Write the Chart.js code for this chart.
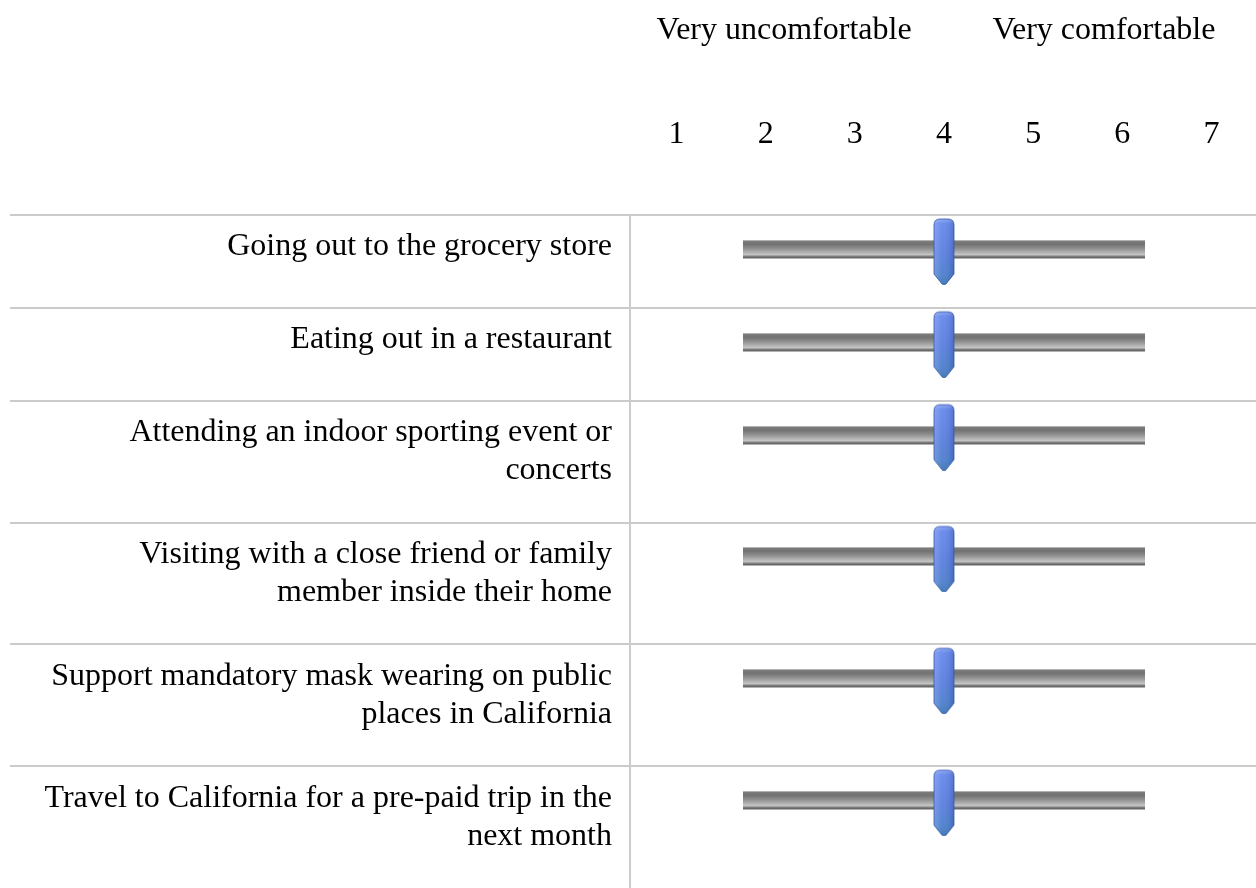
<!DOCTYPE html>
<html>
<head>
<meta charset="utf-8">
<title>Comfort ratings</title>
<script src="https://cdn.jsdelivr.net/npm/chart.js@4.4.1/dist/chart.umd.min.js"></script>
<style>
  html, body { margin: 0; padding: 0; background: #fff; }
  #wrap { position: relative; width: 1256px; height: 888px; }
</style>
</head>
<body>
<div id="wrap"><canvas id="ratingChart"></canvas></div>
<script>
/* ---------- data ---------- */
const ROW_LABELS = [
  ['Going out to the grocery store'],
  ['Eating out in a restaurant'],
  ['Attending an indoor sporting event or', 'concerts'],
  ['Visiting with a close friend or family', 'member inside their home'],
  ['Support mandatory mask wearing on public', 'places in California'],
  ['Travel to California for a pre-paid trip in the', 'next month']
];
const RATINGS = [4, 4, 4, 4, 4, 4];
const SCALE_TICKS = [1, 2, 3, 4, 5, 6, 7];
const SCALE_ENDS = ['Very uncomfortable', 'Very comfortable'];

/* ---------- layout (table rows grow with wrapped lines) ---------- */
const FONT = "'Liberation Serif', 'Times New Roman', serif";
const FONT_SIZE = 32;
const LINE_H = 38;
const ROW_H_ONE = 93;
const ROW_H_TWO = 122;
const TRACK_OFFSET = 34;     // track centre below row top
const LABEL_OFFSET = 32;     // first text line centre below row top
const TRACK_FROM = 1.75, TRACK_TO = 6.26;

const rowTops = [];
let tableH = 0;
ROW_LABELS.forEach(lines => {
  rowTops.push(tableH);
  tableH += lines.length > 1 ? ROW_H_TWO : ROW_H_ONE;
});
const labelAnchors = ROW_LABELS.map((lines, i) => rowTops[i] + LABEL_OFFSET + (lines.length - 1) * LINE_H / 2);

/* ---------- slider thumb glyph ---------- */
function makeThumb() {
  const c = document.createElement('canvas');
  c.width = 22; c.height = 72;
  const g = c.getContext('2d');
  const L = 1, R = 21, T = 6, S = 61, B = 72, r = 6, mid = 11;
  g.beginPath();
  g.moveTo(L, T + r);
  g.quadraticCurveTo(L, T, L + r, T);
  g.lineTo(R - r, T);
  g.quadraticCurveTo(R, T, R, T + r);
  g.lineTo(R, S);
  g.lineTo(mid + 2, B - 1);
  g.quadraticCurveTo(mid, B, mid - 2, B - 1);
  g.lineTo(L, S);
  g.closePath();
  const v = g.createLinearGradient(0, T, 0, B);
  v.addColorStop(0, '#8aa4f4');
  v.addColorStop(0.07, '#6688ec');
  v.addColorStop(0.5, '#5a7ee0');
  v.addColorStop(0.85, '#4c7fcd');
  v.addColorStop(1, '#3b76b2');
  g.fillStyle = v;
  g.fill();
  const h = g.createLinearGradient(L, 0, R, 0);
  h.addColorStop(0, 'rgba(255,255,255,0.22)');
  h.addColorStop(0.4, 'rgba(255,255,255,0.05)');
  h.addColorStop(1, 'rgba(0,20,80,0.18)');
  g.fillStyle = h;
  g.fill();
  g.strokeStyle = 'rgba(50,85,170,0.8)';
  g.lineWidth = 1;
  g.stroke();
  return c;
}
const thumb = makeThumb();

/* ---------- plugins ---------- */
const tablePlugin = {
  id: 'tableLines',
  beforeDatasetsDraw(chart) {
    const { ctx, scales: { y }, width, height } = chart;
    ctx.save();
    ctx.strokeStyle = '#cbcbcb';
    ctx.lineWidth = 2;
    rowTops.forEach(t => {
      const py = Math.round(y.getPixelForValue(t));
      ctx.beginPath();
      ctx.moveTo(10, py);
      ctx.lineTo(width, py);
      ctx.stroke();
    });
    const top = y.getPixelForValue(0);
    ctx.beginPath();
    ctx.moveTo(630, top);
    ctx.lineTo(630, height);
    ctx.stroke();
    ctx.restore();
  }
};

const trackPlugin = {
  id: 'sliderTrack',
  beforeDatasetsDraw(chart) {
    const { ctx, scales: { x } } = chart;
    const x0 = Math.round(x.getPixelForValue(TRACK_FROM));
    const x1 = Math.round(x.getPixelForValue(TRACK_TO));
    ctx.save();
    chart.getDatasetMeta(0).data.forEach(pt => {
      const yc = Math.round(pt.y);
      const top = yc - 9, h = 19;
      const gr = ctx.createLinearGradient(0, top, 0, top + h);
      gr.addColorStop(0, '#dcdcdc');
      gr.addColorStop(0.06, '#7c7c7c');
      gr.addColorStop(0.22, '#727272');
      gr.addColorStop(0.45, '#8f8f8f');
      gr.addColorStop(0.78, '#c6c6c6');
      gr.addColorStop(0.84, '#8a8a8a');
      gr.addColorStop(0.92, '#666666');
      gr.addColorStop(1, '#d6d6d6');
      ctx.fillStyle = gr;
      ctx.fillRect(x0, top, x1 - x0, h);
    });
    ctx.restore();
  }
};

const headerPlugin = {
  id: 'scaleEnds',
  afterDraw(chart) {
    const { ctx, scales: { x } } = chart;
    ctx.save();
    ctx.font = FONT_SIZE + 'px ' + FONT;
    ctx.fillStyle = '#000';
    ctx.textBaseline = 'alphabetic';
    ctx.textAlign = 'left';
    ctx.fillText(SCALE_ENDS[0], x.getPixelForValue(1) - 20, 39);
    ctx.textAlign = 'right';
    ctx.fillText(SCALE_ENDS[1], x.getPixelForValue(7) + 4, 39);
    ctx.restore();
  }
};

/* ---------- chart ---------- */
new Chart(document.getElementById('ratingChart'), {
  type: 'scatter',
  data: {
    datasets: [{
      label: 'Rating',
      data: RATINGS.map((v, i) => ({ x: v, y: rowTops[i] + TRACK_OFFSET })),
      pointStyle: thumb,
      pointRadius: 10,
      pointHoverRadius: 10
    }]
  },
  options: {
    responsive: true,
    maintainAspectRatio: false,
    animation: false,
    layout: { padding: 0, autoPadding: false },
    plugins: { legend: { display: false }, tooltip: { enabled: false } },
    scales: {
      x: {
        type: 'linear',
        position: 'top',
        min: 0.5,
        max: 7.5,
        grid: { display: false, drawTicks: false },
        border: { display: false },
        afterBuildTicks: s => { s.ticks = SCALE_TICKS.map(v => ({ value: v })); },
        afterFit: s => { s.height = 215; s.paddingLeft = 0; s.paddingRight = 0; },
        ticks: {
          padding: 61,
          color: '#000',
          font: { family: FONT, size: FONT_SIZE, lineHeight: 1.2 },
          maxRotation: 0,
          autoSkip: false
        }
      },
      y: {
        type: 'linear',
        reverse: true,
        min: 0,
        max: tableH,
        grid: { display: false, drawTicks: false },
        border: { display: false },
        afterBuildTicks: s => { s.ticks = labelAnchors.map(v => ({ value: v })); },
        afterFit: s => { s.width = 632; s.paddingTop = 0; s.paddingBottom = 0; },
        ticks: {
          padding: 20,
          color: '#000',
          autoSkip: false,
          font: { family: FONT, size: FONT_SIZE, lineHeight: LINE_H / FONT_SIZE },
          callback: (v, i) => ROW_LABELS[i]
        }
      }
    }
  },
  plugins: [tablePlugin, trackPlugin, headerPlugin]
});
</script>
</body>
</html>
